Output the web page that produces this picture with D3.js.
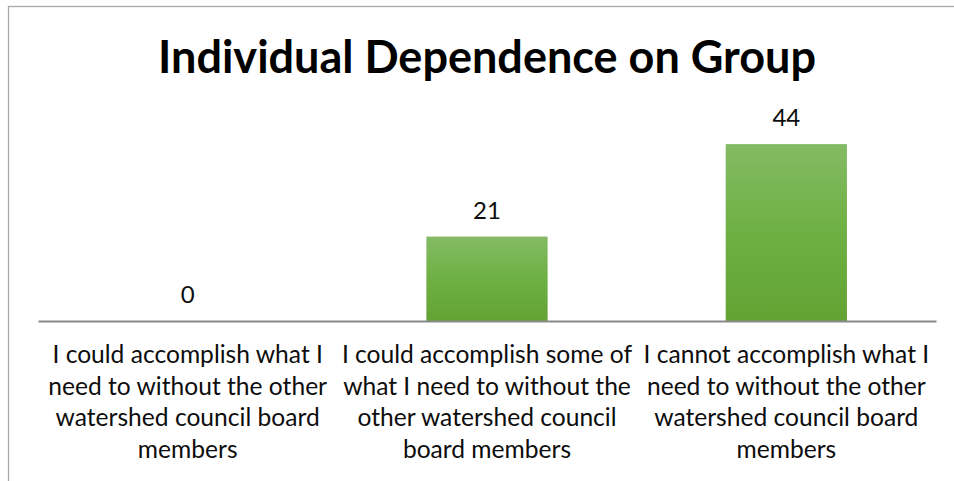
<!DOCTYPE html>
<html lang="en">
<head>
<meta charset="UTF-8">
<title>Individual Dependence on Group</title>
<style>
  body { margin: 0; background: #fff; }
  .frame { fill: none; stroke: #a9a9a9; stroke-width: 1.3; }
  .title { font: bold 45px Lato, sans-serif; fill: #000; }
  .cat   { font: 24.6px Lato, sans-serif; fill: #0d0d0d; }
  .val   { font: 24px Lato, sans-serif; fill: #0d0d0d; }
  .xaxis path { stroke: #898989; stroke-width: 2.2; }
</style>
</head>
<body>
<svg id="chart" width="954" height="481"></svg>
<script src="https://d3js.org/d3.v7.min.js"></script>
<script>
  // data
  const TITLE = "Individual Dependence on Group";
  const CATEGORIES = [
    "I could accomplish what I\nneed to without the other\nwatershed council board\nmembers",
    "I could accomplish some of\nwhat I need to without the\nother watershed council\nboard members",
    "I cannot accomplish what I\nneed to without the other\nwatershed council board\nmembers"
  ];
  const VALUES = [0, 21, 44];

  // layout
  const plotL = 38, plotR = 936, plotBottom = 321, plotTop = 120;

  const svg = d3.select("#chart");

  const x = d3.scaleBand()
    .domain(CATEGORIES)
    .range([plotL, plotR])
    .paddingInner(0.595)
    .paddingOuter(0.2975);

  const y = d3.scaleLinear()
    .domain([0, 50])
    .range([plotBottom, plotTop]);

  // chart frame (runs off the right and bottom edges like the original)
  svg.append("rect").attr("class", "frame")
    .attr("x", 8.5).attr("y", 6.5).attr("width", 980).attr("height", 500);

  // gradient fill of the bars
  const grad = svg.append("defs").append("linearGradient")
    .attr("id", "barFill").attr("x1", 0).attr("y1", 0).attr("x2", 0).attr("y2", 1);
  grad.append("stop").attr("offset", "0%").attr("stop-color", "#84bb65");
  grad.append("stop").attr("offset", "50%").attr("stop-color", "#6eb043");
  grad.append("stop").attr("offset", "100%").attr("stop-color", "#63a334");

  svg.append("text").attr("class", "title")
    .attr("x", (plotL + plotR) / 2).attr("y", 73)
    .attr("text-anchor", "middle")
    .text(TITLE);

  // bars
  svg.selectAll("rect.bar")
    .data(VALUES)
    .join("rect").attr("class", "bar")
    .attr("x", (d, i) => x(CATEGORIES[i]))
    .attr("width", x.bandwidth())
    .attr("y", d => y(d))
    .attr("height", d => y(0) - y(d))
    .attr("fill", "url(#barFill)");

  // value labels
  svg.selectAll("text.val")
    .data(VALUES)
    .join("text").attr("class", "val")
    .attr("x", (d, i) => x(CATEGORIES[i]) + x.bandwidth() / 2)
    .attr("y", d => y(d) - 18)
    .attr("text-anchor", "middle")
    .text(d => d);

  // category axis
  const axis = svg.append("g").attr("class", "xaxis")
    .attr("transform", `translate(0,${plotBottom})`)
    .call(d3.axisBottom(x).tickSize(0).tickSizeOuter(0).tickFormat(""));

  axis.selectAll(".tick text").remove();
  axis.selectAll(".tick").each(function(cat) {
    const t = d3.select(this).append("text").attr("class", "cat")
      .attr("text-anchor", "middle");
    cat.split("\n").forEach((line, i) => {
      t.append("tspan").attr("x", 0).attr("y", 42 + i * 31.7).text(line);
    });
  });
</script>
</body>
</html>
